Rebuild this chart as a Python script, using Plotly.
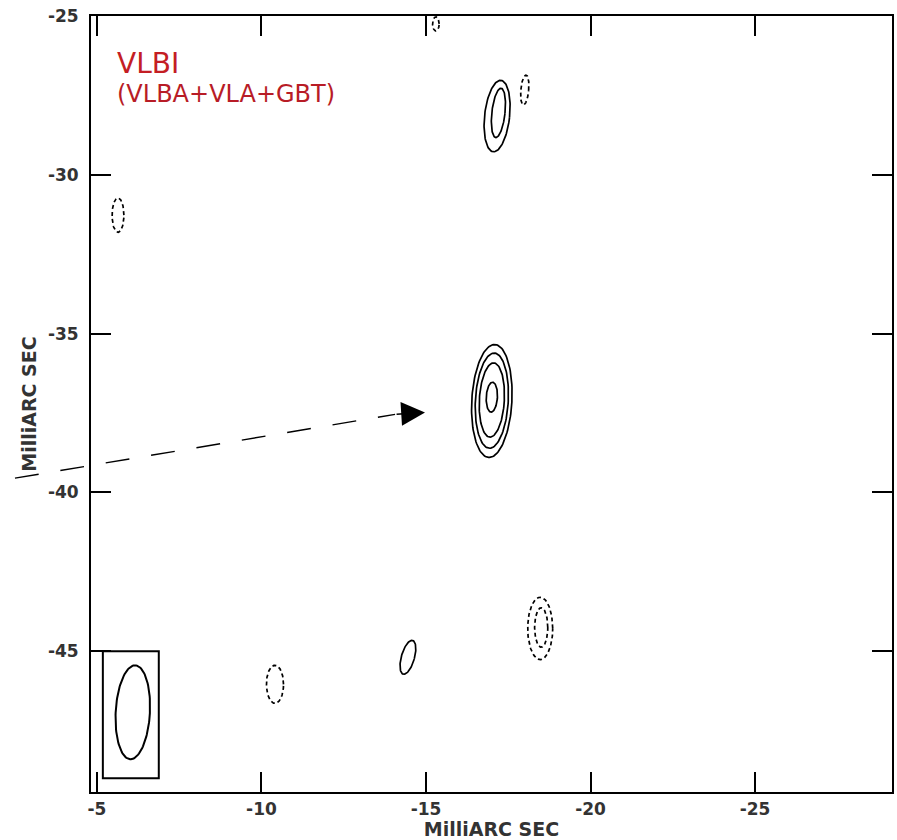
import numpy as np
import plotly.graph_objects as go

# ---- axis settings (data units) ----
x_range = [-4.82, -29.16]
y_range = [-49.43, -25.0]
x_ticks = [-5, -10, -15, -20, -25]
y_ticks = [-25, -30, -35, -40, -45]
x_tick_text = ["-5", "-10", "-15", "-20", "-25"]
y_tick_text = ["-25", "-30", "-35", "-40", "-45"]

# ---- contour ellipses: centre x, centre y, half-width, half-height, tilt (deg), dashed ----
cont_cx = [-17.00, -17.00, -17.00, -17.00, -17.16, -17.20, -14.45,
           -18.00, -5.64, -15.30, -10.41, -18.47, -18.50]
cont_cy = [-37.12, -37.11, -37.09, -37.00, -28.15, -28.05, -45.19,
           -27.33, -31.27, -25.25, -46.04, -44.28, -44.25]
cont_a = [0.61, 0.50, 0.38, 0.17, 0.38, 0.20, 0.20,
          0.12, 0.18, 0.10, 0.26, 0.38, 0.20]
cont_b = [1.78, 1.50, 1.17, 0.47, 1.13, 0.78, 0.55,
          0.47, 0.54, 0.22, 0.60, 0.98, 0.62]
cont_tilt = [3, 3, 3, 3, 6, 6, 15,
             5, 0, 0, 0, 0, 0]
cont_dash = [False, False, False, False, False, False, False,
             True, True, True, True, True, True]

# ---- restoring beam and its box ----
beam_cx, beam_cy, beam_a, beam_b, beam_tilt = -6.09, -46.92, 0.52, 1.48, 3
beam_box_x = [-5.18, -6.88]
beam_box_y = [-45.0, -49.0]

# ---- proper-motion arrow (data units) ----
arrow_start = (-2.51, -39.55)
arrow_dash_end = (-14.06, -37.54)
arrow_head = (-14.97, -37.48)

title_main = "VLBI"
title_sub = "(VLBA+VLA+GBT)"
axis_title = "MilliARC SEC"


def ellipse(cx, cy, a, b, tilt_deg, n=120):
    t = np.linspace(0, 2 * np.pi, n)
    phi = np.deg2rad(tilt_deg)
    u0 = a * np.cos(t)
    v0 = b * np.sin(t)
    u = u0 * np.cos(phi) + v0 * np.sin(phi)
    v = -u0 * np.sin(phi) + v0 * np.cos(phi)
    return cx - u, cy + v


fig = go.Figure()

for cx, cy, a, b, tl, dashed in zip(cont_cx, cont_cy, cont_a, cont_b, cont_tilt, cont_dash):
    xs, ys = ellipse(cx, cy, a, b, tl)
    fig.add_trace(go.Scatter(
        x=xs, y=ys, mode="lines", hoverinfo="skip", showlegend=False,
        line=dict(color="black", width=1.7, dash="4px,3px" if dashed else "solid"),
    ))

bx, by = ellipse(beam_cx, beam_cy, beam_a, beam_b, beam_tilt)
fig.add_trace(go.Scatter(x=bx, y=by, mode="lines", hoverinfo="skip", showlegend=False,
                         line=dict(color="black", width=2)))

fig.add_shape(type="rect", xref="x", yref="y",
              x0=beam_box_x[0], x1=beam_box_x[1], y0=beam_box_y[0], y1=beam_box_y[1],
              line=dict(color="black", width=2))


def to_paper(x, y):
    px = (x - x_range[0]) / (x_range[1] - x_range[0])
    py = (y - y_range[0]) / (y_range[1] - y_range[0])
    return px, py


p0 = to_paper(*arrow_start)
p1 = to_paper(*arrow_dash_end)
fig.add_shape(type="line", xref="paper", yref="paper",
              x0=p0[0], y0=p0[1], x1=p1[0], y1=p1[1],
              line=dict(color="black", width=1.4, dash="24px,22px"))

fig.add_annotation(x=arrow_head[0], y=arrow_head[1], xref="x", yref="y",
                   ax=arrow_dash_end[0], ay=arrow_dash_end[1], axref="x", ayref="y",
                   showarrow=True, arrowhead=2, arrowsize=3.4, arrowwidth=1.4,
                   arrowcolor="black", text="")

fig.add_annotation(x=0.031, y=0.9394, xref="paper", yref="paper", xanchor="left", yanchor="middle",
                   text=title_main, showarrow=False, borderpad=0,
                   font=dict(family="DejaVu Sans", size=28, color="#c41e24"))
fig.add_annotation(x=0.031, y=0.8995, xref="paper", yref="paper", xanchor="left", yanchor="middle",
                   text=title_sub, showarrow=False, borderpad=0,
                   font=dict(family="DejaVu Sans", size=24, color="#b81c26"))

tickfont = dict(family="DejaVu Sans", size=17, color="#333333", weight="bold")
titlefont = dict(family="DejaVu Sans", size=19, color="#333333", weight="bold")

common = dict(showline=True, linewidth=2, linecolor="black", mirror="ticks",
              ticks="inside", ticklen=20, tickwidth=2, tickcolor="black",
              showgrid=False, zeroline=False, tickfont=tickfont,
              ticklabeloverflow="allow")

fig.update_xaxes(range=x_range, tickvals=x_ticks, ticktext=x_tick_text,
                 title=dict(text=axis_title, font=titlefont, standoff=4),
                 ticklabelstandoff=1, **common)
fig.update_yaxes(range=y_range, tickvals=y_ticks, ticktext=y_tick_text,
                 title=dict(text=axis_title, font=titlefont, standoff=6),
                 ticklabelstandoff=7, **common)

fig.update_layout(width=897, height=840,
                  margin=dict(l=91, r=5, t=16, b=48, autoexpand=False),
                  plot_bgcolor="white", paper_bgcolor="white",
                  showlegend=False)

fig.write_html("out.html", config={"displayModeBar": False},
               post_script="document.body.style.margin='0';")
